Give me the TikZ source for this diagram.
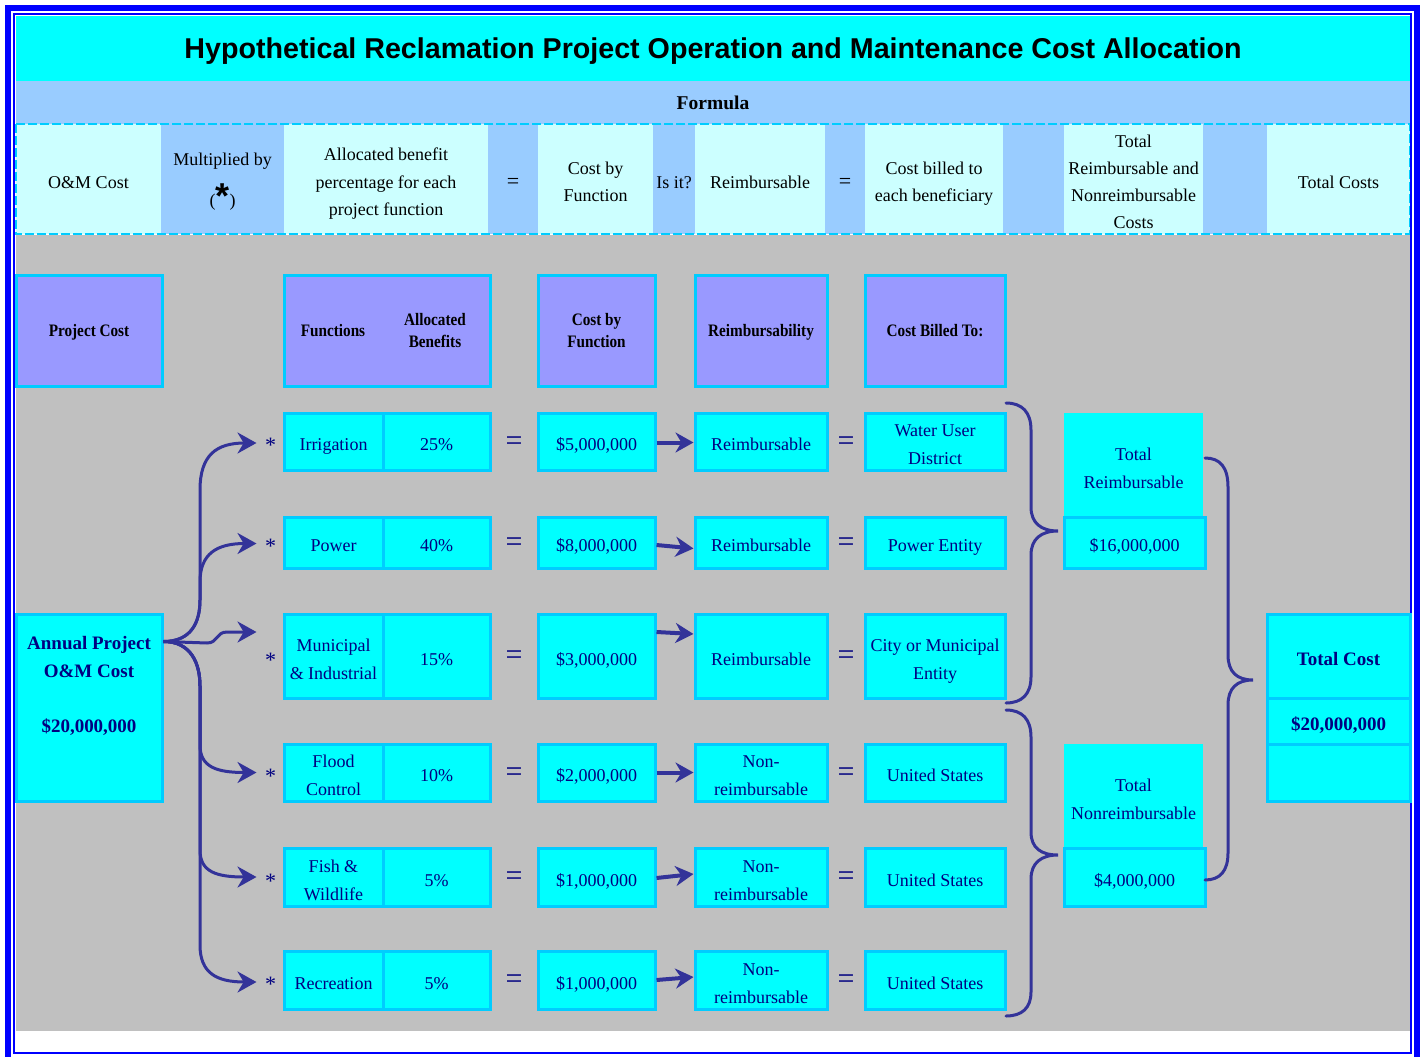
\documentclass[tikz,border=0pt]{standalone}
\usepackage{fontspec}
\setmainfont{Liberation Serif}
\newfontfamily\titlefont{Liberation Sans}
\newfontfamily\condserif[FakeStretch=0.87]{Liberation Serif}
\usetikzlibrary{arrows.meta,calc}
\definecolor{cyanA}{HTML}{00FFFF}
\definecolor{lcyan}{HTML}{CCFFFF}
\definecolor{lblue}{HTML}{99CCFF}
\definecolor{bcyan}{HTML}{00CCFF}
\definecolor{hpurple}{HTML}{9999FF}
\definecolor{grayA}{HTML}{C0C0C0}
\definecolor{arrowc}{HTML}{333399}
\definecolor{navyA}{HTML}{000080}
\definecolor{frameblue}{HTML}{0000FF}
\newcommand\regf{\fontsize{18}{28}\selectfont}
\newcommand\formrowf{\fontsize{18}{27.3}\selectfont}
\newcommand\hdrf{\condserif\bfseries\fontsize{17.5}{22}\selectfont}
\newcommand\bigf{\bfseries\fontsize{19}{28}\selectfont}
\newcommand\titlef{\titlefont\bfseries\fontsize{28.65}{30}\selectfont}
\newcommand\formf{\bfseries\fontsize{19.5}{22}\selectfont}
\newcommand\ts{\rule{0pt}{22pt}}
\newcommand\hs{\rule{0pt}{16pt}}
% box: style, name, x1, y1, x2, y2, text
\newcommand\bx[7]{\node[#1, minimum width={#5-#3}, minimum height={#6-#4}] (#2) at ({(#3+#5)/2},{(#4+#6)/2}) {#7};}
% data row: n, y1, y2, function, percent, cost, reimb, billed
\newcommand\datarow[8]{%
  \bx{dbox}{f#1}{284}{#2}{383}{#3}{\ts#4}
  \bx{dbox}{p#1}{383}{#2}{490}{#3}{\ts#5}
  \bx{dbox}{c#1}{538}{#2}{655}{#3}{\ts#6}
  \bx{dbox}{r#1}{695}{#2}{827}{#3}{\ts#7}
  \bx{dbox}{b#1}{865}{#2}{1005}{#3}{\ts#8}
  \node[star] (s#1) at ($(f#1.west)+(-12,4)$) {*};
  \node[eqs] (e#1) at ($(p#1.east)!0.5!(c#1.west)+(0,2)$) {=};
  \node[eqs] (q#1) at ($(r#1.east)!0.5!(b#1.west)+(0,2)$) {=};
}
\begin{document}
\begin{tikzpicture}[x=1pt,y=-1pt,
  lowstrut/.style={execute at end node={\rule[-4pt]{0pt}{4pt}}},
  lcell/.style={fill=lcyan, inner sep=0pt, align=center, font=\formrowf, text=black, lowstrut},
  bcell/.style={fill=lblue, inner sep=0pt, align=center, font=\formrowf, text=black, lowstrut},
  hbox/.style={fill=hpurple, draw=bcyan, line width=3pt, inner sep=0pt, align=center, font=\hdrf, text=black,
     execute at end node={\rule[-4.4pt]{0pt}{4.4pt}}},
  htext/.style={inner sep=0pt, align=center, font=\hdrf, text=black},
  dbox/.style={fill=cyanA, draw=bcyan, line width=3pt, inner sep=0pt, align=center, font=\regf, text=navyA, lowstrut},
  pbox/.style={fill=cyanA, inner sep=0pt, align=center, font=\regf, text=navyA, lowstrut},
  star/.style={font=\fontsize{22}{22}\selectfont, text=navyA, inner sep=0pt},
  eqs/.style={font=\fontsize{30}{30}\selectfont, text=navyA, inner sep=0pt},
  branch/.style={draw=arrowc, line width=3pt, -{Stealth[length=19pt,width=21pt]}},
  flow/.style={draw=arrowc, line width=4pt, -{Stealth[length=18pt,width=20pt]}},
  bracel/.style={draw=arrowc, line width=3pt, line cap=round},
]
\path[clip] (0,0) rectangle (1424,1057);
\useasboundingbox (0,0) rectangle (1424,1057);
\fill[white] (0,0) rectangle (1424,1057);

% title and formula band
\bx{fill=cyanA, inner sep=0pt, font=\titlef, execute at end node={\rule[-6pt]{0pt}{6pt}}}{title}{16}{16}{1410}{81}{\rule{0pt}{26pt}Hypothetical Reclamation Project Operation and Maintenance Cost Allocation}
\bx{fill=lblue, inner sep=0pt, font=\formf, execute at end node={\rule[-4pt]{0pt}{4pt}}}{formula}{16}{81}{1410}{124}{\rule{0pt}{17pt}Formula}

% formula row
\bx{lcell}{fc1}{16}{124}{161}{234}{\ts O\&M Cost}
\bx{bcell}{fc2}{161}{124}{284}{234}{\rule{0pt}{18pt}Multiplied by\\[13pt](\raisebox{-2pt}{\titlefont\bfseries\fontsize{36}{36}\selectfont *})}
\bx{lcell}{fc3}{284}{124}{488}{234}{\ts Allocated benefit\\percentage for each\\project function}
\bx{bcell,font=\fontsize{22}{22}\selectfont}{fc4}{488}{124}{538}{234}{\ts =}
\bx{lcell}{fc5}{538}{124}{653}{234}{\ts Cost by\\Function}
\bx{bcell}{fc6}{653}{124}{695}{234}{\ts Is it?}
\bx{lcell}{fc7}{695}{124}{825}{234}{\ts Reimbursable}
\bx{bcell,font=\fontsize{22}{22}\selectfont}{fc8}{825}{124}{865}{234}{\ts =}
\bx{lcell}{fc9}{865}{124}{1003}{234}{\ts Cost billed to\\each beneficiary}
\bx{bcell}{fc10}{1003}{124}{1064}{234}{}
\bx{lcell}{fc11}{1064}{124}{1203}{234}{\ts Total\\Reimbursable and\\Nonreimbursable\\Costs}
\bx{bcell}{fc12}{1203}{124}{1267}{234}{}
\bx{lcell}{fc13}{1267}{124}{1410}{234}{\ts Total Costs}
\draw[draw=bcyan, line width=2pt, dash pattern=on 9pt off 3pt] (fc1.north west) rectangle (fc13.south east);

% gray panel
\bx{fill=grayA, inner sep=0pt}{panel}{16}{235}{1410}{1031}{}

% frame
\draw[frameblue, line width=6pt] (8,8) rectangle (1417,1061);
\draw[frameblue, line width=2pt] (14,14) rectangle (1411,1052.5);

% header boxes
\bx{hbox}{hpc}{16}{275}{162}{386}{\hs Project Cost}
\bx{hbox}{hfn}{284}{275}{490}{386}{}
\node[htext] (hfn1) at (333,331) {Functions};
\node[htext] (hfn2) at (435,331) {Allocated\\Benefits};
\bx{hbox}{hcf}{538}{275}{655}{386}{\hs Cost by\\Function}
\bx{hbox}{hre}{695}{275}{827}{386}{\hs Reimbursability}
\bx{hbox}{hcb}{865}{275}{1005}{386}{\hs Cost Billed To:}

% data rows
\datarow{1}{413}{470}{Irrigation}{25\%}{\$5,000,000}{Reimbursable}{Water User\\District}
\datarow{2}{517}{568}{Power}{40\%}{\$8,000,000}{Reimbursable}{Power Entity}
\datarow{3}{614}{698}{Municipal\\\& Industrial}{15\%}{\$3,000,000}{Reimbursable}{City or Municipal\\Entity}
\datarow{4}{744}{801}{Flood\\Control}{10\%}{\$2,000,000}{Non-\\reimbursable}{United States}
\datarow{5}{848}{906}{Fish \&\\Wildlife}{5\%}{\$1,000,000}{Non-\\reimbursable}{United States}
\datarow{6}{951}{1009}{Recreation}{5\%}{\$1,000,000}{Non-\\reimbursable}{United States}

% annual project box
\bx{dbox}{annual}{16}{614}{162}{801}{}
\node[font=\bigf, text=navyA, align=center, inner sep=0pt] (annualtxt) at (89,686) {Annual Project\\O\&M Cost\\[27pt]\$20,000,000};

% totals
\bx{pbox}{trlab}{1064}{413}{1203}{517}{\ts Total\\Reimbursable}
\bx{dbox}{trval}{1064}{517}{1205}{568}{\ts\$16,000,000}
\bx{pbox}{tnlab}{1064}{744}{1203}{848}{\ts Total\\Nonreimbursable}
\bx{dbox}{tnval}{1064}{848}{1205}{906}{\ts\$4,000,000}
\bx{dbox,font=\bigf}{tclab}{1267}{614}{1410}{698}{\ts Total Cost}
\bx{dbox,font=\bigf}{tcval}{1267}{698}{1410}{744}{\ts\$20,000,000}
\bx{dbox}{tcemp}{1267}{744}{1410}{801}{}

% branch arrows
\coordinate (src) at ($(annual.north east)+(0,29)$);
\coordinate (t1) at ($(f1.west)+(-26,1.5)$);
\coordinate (t2) at ($(f2.west)+(-26,1)$);
\coordinate (t3) at ($(f3.west)+(-26,-24)$);
\coordinate (t4) at ($(f4.west)+(-26,0)$);
\coordinate (t5) at ($(f5.west)+(-26,0)$);
\coordinate (t6) at ($(f6.west)+(-26,2)$);
\draw[branch] (src) .. controls +(28,0) and +(0,22) .. (200,600) -- (200,490) .. controls +(0,-35) and +(-40,0) .. (t1);
\draw[branch] (src) .. controls +(28,0) and +(0,22) .. (200,600) -- (200,582) .. controls +(0,-28) and +(-40,0) .. (t2);
\draw[branch] (src) -- (207,643) .. controls +(11,0) and +(-11,0) .. (227,632) -- (t3);
\draw[branch] (src) .. controls +(28,0) and +(0,-22) .. (200,686) -- (200,745) .. controls +(0,22) and +(-40,0) .. (t4);
\draw[branch] (src) .. controls +(28,0) and +(0,-22) .. (200,686) -- (200,850) .. controls +(0,22) and +(-40,0) .. (t5);
\draw[branch] (src) .. controls +(28,0) and +(0,-22) .. (200,686) -- (200,945) .. controls +(0,28) and +(-40,0) .. (t6);

% flow arrows
\draw[flow] ($(c1.east)+(0,1)$) -- ($(r1.west)+(0,1)$);
\draw[flow] ($(c2.east)+(0,2.5)$) -- ($(r2.west)+(0,6)$);
\draw[flow] ($(c3.east)+(0,-24)$) -- ($(r3.west)+(0,-22)$);
\draw[flow] ($(c4.east)+(0,0)$) -- ($(r4.west)+(0,0)$);
\draw[flow] ($(c5.east)+(0,1)$) -- ($(r5.west)+(0,-3)$);
\draw[flow] ($(c6.east)+(0,0)$) -- ($(r6.west)+(0,-3)$);

% braces
\coordinate (b1s) at (1006,403); \coordinate (b1t) at (1058,531); \coordinate (b1e) at (1006,703);
\coordinate (b2s) at (1006,710); \coordinate (b2t) at (1058,855); \coordinate (b2e) at (1006,1016);
\coordinate (b3s) at (1205,458); \coordinate (b3t) at (1253,680); \coordinate (b3e) at (1205,880);
\draw[bracel] (b1s) .. controls (1022,403) and (1031,412) .. (1031,430) -- (1031,507) .. controls (1031,523) and (1041,531) .. (b1t) .. controls (1041,531) and (1031,539) .. (1031,555) -- (1031,677) .. controls (1031,694) and (1022,703) .. (b1e);
\draw[bracel] (b2s) .. controls (1022,710) and (1031,719) .. (1031,737) -- (1031,832) .. controls (1031,848) and (1041,855) .. (b2t) .. controls (1041,855) and (1031,863) .. (1031,879) -- (1031,992) .. controls (1031,1008) and (1022,1016) .. (b2e);
\draw[bracel] (b3s) .. controls (1220,458) and (1228,467) .. (1228,487) -- (1228,655) .. controls (1228,672) and (1237,680) .. (b3t) .. controls (1237,680) and (1228,688) .. (1228,705) -- (1228,853) .. controls (1228,871) and (1220,880) .. (b3e);
\end{tikzpicture}
\end{document}
